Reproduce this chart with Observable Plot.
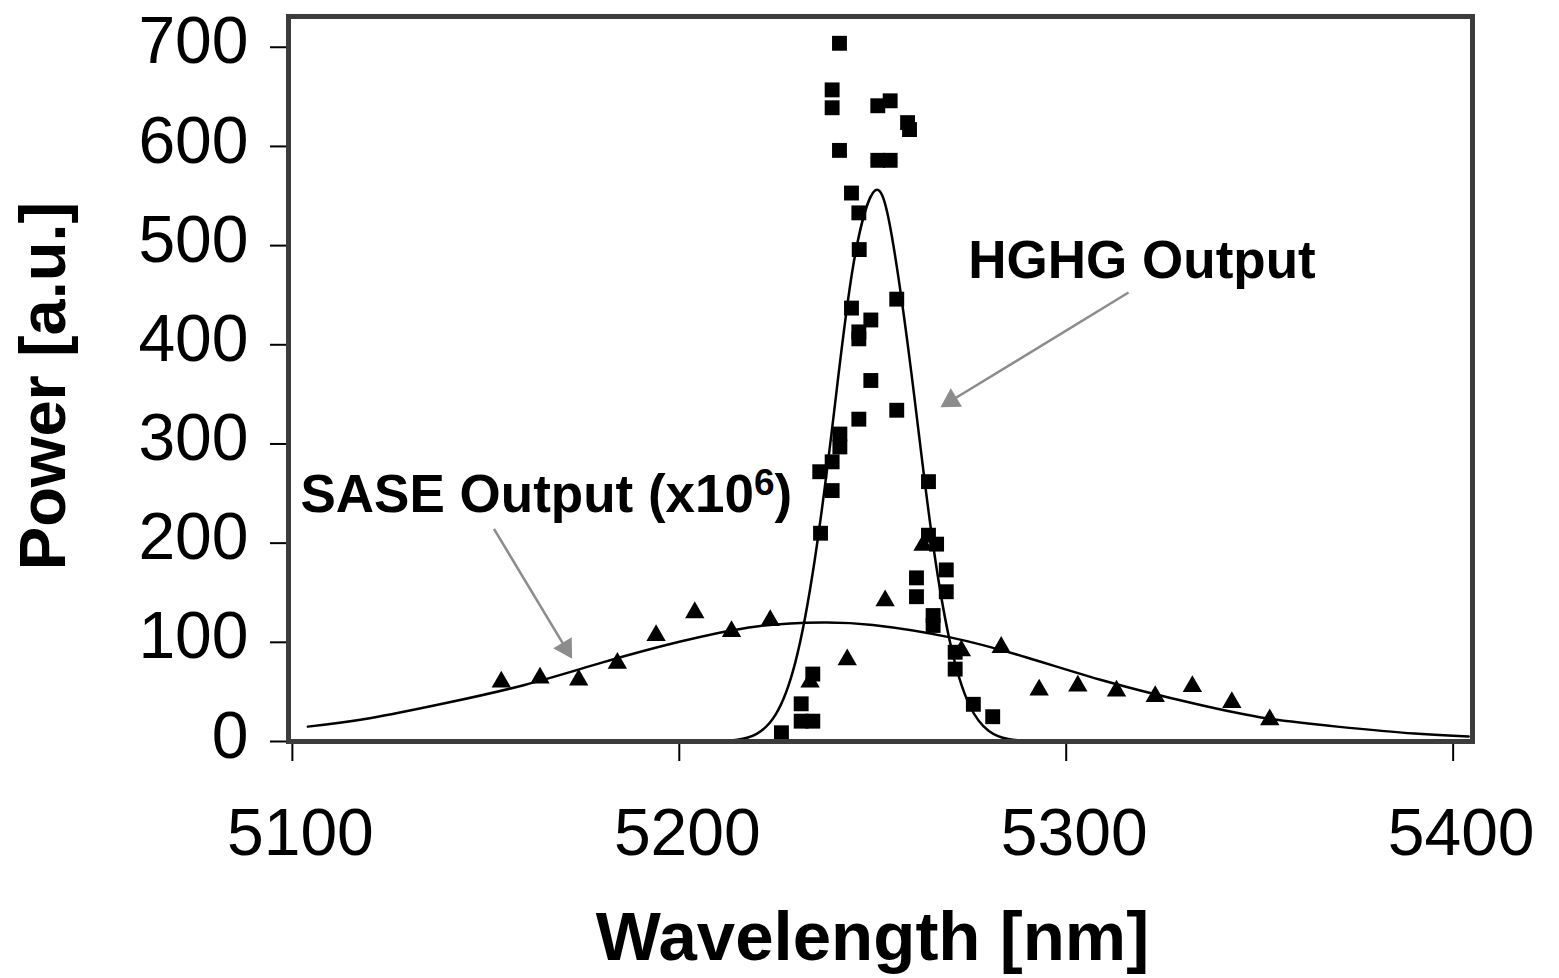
<!DOCTYPE html>
<html><head><meta charset="utf-8">
<script src="https://cdn.jsdelivr.net/npm/d3@7"></script>
<script src="https://cdn.jsdelivr.net/npm/@observablehq/plot@0.6"></script>
<style>body{margin:0;background:#fff;} svg{display:block}</style>
</head><body><div id="chart"></div>
<script>
// HGHG measured points (squares)
const hghgX = [5241.4,5239.5,5239.5,5251.3,5254.5,5259.0,5259.5,5241.4,5251.3,5254.5,5244.5,5246.4,5246.5,5244.5,5256.2,5249.5,5246.4,5246.4,5249.5,5256.2,5246.4,5241.5,5241.5,5239.5,5236.3,5239.5,5264.4,5236.5,5264.4,5266.5,5261.3,5261.3,5269.0,5269.0,5265.6,5265.6,5271.3,5271.3,5276.0,5281.0,5234.5,5231.5,5231.5,5234.5,5226.4];
const hghgY = [704,657,639,641,646,624,617,596,586,586,553,533,496,437,446,425,413,406,364,334,325,310,297,282,272,253,262,210,208,199,165,146,173,151,127,117,90,73,37.5,25,68,38,20.5,20.5,8.8];
// SASE measured points (triangles)
const saseX = [5154,5164,5174,5184,5194,5204,5213.5,5223.5,5233.8,5243.4,5253.2,5263,5272.9,5283.2,5293,5303,5313,5323,5332.6,5342.8,5352.6];
const saseY = [60,64,62,79,107,130,111,122,60,82.5,142,198,91.5,95,52,56,51,45.5,55.5,39.5,22];
// Fitted curves
const hghgFitX = [5205,5210,5215,5220,5225,5230,5235,5240,5245,5250.6,5255,5260,5265,5270,5275,5280,5285,5290,5295];
const hghgFitY = [0,0.3,1.7,7.7,27.8,80,183,332,481,555.5,508,371,215,99.5,36.6,10.7,2.5,0.5,0];
const saseFitX = [5104,5120,5140,5160,5180,5200,5220,5237,5250,5270,5290,5310,5330,5350,5370,5390,5404];
const saseFitY = [15,23.5,39,57,79.5,100.5,116,120,117.5,105,84.5,61,41,24.5,15,8,5];
// Axis ticks
const xTicks = [5100,5200,5300,5400];
const yTicks = [0,100,200,300,400,500,600,700];
// Annotations
const annoText = ["HGHG Output","SASE Output (x10\u2076)"];
const annoX = [5274.7,5102.1];
const annoY = [467.8,231.2];
const arrowX1 = [5316.1,5152.1], arrowY1 = [452.7,214.4];
const arrowX2 = [5267.5,5172.3], arrowY2 = [337,83.4];

const W=1559, H=978, mL=288, mR=87, mT=16, mB=237;
const xDomain=[5099,5405], yDomain=[0,731];
const kx=(W-mL-mR)/(xDomain[1]-xDomain[0]);
const ky=(H-mT-mB)/(yDomain[1]-yDomain[0]);

const pts = (xs, ys) => xs.map((x,i)=>({x, y: ys[i]}));
const hghg = pts(hghgX,hghgY), sase = pts(saseX,saseY);
const hghgFit = pts(hghgFitX,hghgFitY), saseFit = pts(saseFitX,saseFitY);
const annos = annoText.map((t,i)=>({t, x: annoX[i], y: annoY[i]}));

const headR = 8;
const yOff = Math.sqrt(Math.PI*headR*headR/(3*Math.sqrt(3)));
const arrows = arrowX1.map((x1,i)=>{
  const x2=arrowX2[i], y1=arrowY1[i], y2=arrowY2[i];
  const dxp=(x2-x1)*kx, dyp=-(y2-y1)*ky;
  const len=Math.hypot(dxp,dyp), ux=dxp/len, uy=dyp/len;
  const d=2*yOff;
  return {x1,y1,x2,y2, cx: x2-ux*d/kx, cy: y2+uy*d/ky, rot: Math.atan2(dyp,dxp)*180/Math.PI+90};
});

const chart = Plot.plot({
  width: W, height: H,
  marginLeft: mL, marginRight: mR, marginTop: mT, marginBottom: mB,
  style: {fontFamily: "'Liberation Sans', Arial, sans-serif", background: "#fff", color: "#000"},
  x: {domain: xDomain},
  y: {domain: yDomain},
  marks: [
    Plot.axisY({ticks: yTicks, tickSize: 18, fill: "none", strokeWidth: 2, label: null}),
    Plot.axisY({ticks: yTicks, tickSize: 0, tickPadding: 40, dy: -5, fontSize: 66, label: null}),
    Plot.axisX({ticks: xTicks, tickSize: 20, fill: "none", strokeWidth: 2, label: null}),
    Plot.axisX({ticks: xTicks, tickSize: 0, tickPadding: 67, dx: 8, fontSize: 66, tickFormat: d => String(d), label: null}),
    Plot.line(saseFit, {x: "x", y: "y", curve: "natural", stroke: "#000", strokeWidth: 2.5}),
    Plot.line(hghgFit, {x: "x", y: "y", curve: "natural", stroke: "#000", strokeWidth: 2.5}),
    Plot.dot(sase, {x: "x", y: "y", symbol: "triangle", r: 7.2, fill: "#000", stroke: "none"}),
    Plot.dot(hghg, {x: "x", y: "y", symbol: "square", r: 8.4, fill: "#000", stroke: "none"}),
    Plot.link(arrows, {x1: "x1", y1: "y1", x2: "cx", y2: "cy", stroke: "#8c8c8c", strokeWidth: 2.5}),
    Plot.dot(arrows, {x: "cx", y: "cy", symbol: "triangle", r: headR, rotate: "rot", fill: "#8c8c8c", stroke: "none"}),
    Plot.text(annos, {x: "x", y: "y", text: "t", textAnchor: "start", lineAnchor: "bottom", fontSize: 53, fontWeight: "bold", fill: "#000"}),
    Plot.text(["Power [a.u.]"], {frameAnchor: "left", textAnchor: "middle", rotate: -90, dx: -244, dy: 7, fontSize: 65, fontWeight: "bold", fill: "#000"}),
    Plot.text(["Wavelength [nm]"], {frameAnchor: "bottom", lineAnchor: "bottom", dx: -8, dy: 218, fontSize: 69, fontWeight: "bold", fill: "#000"}),
    Plot.frame({stroke: "#3c3c3c", strokeWidth: 5})
  ]
});
// render the superscript 6 as a raised tspan
chart.querySelectorAll("text").forEach(t => {
  const s = t.textContent;
  if (s.includes("\u2076") && t.children.length === 0) {
    const [pre, post] = s.split("\u2076");
    const ns = "http://www.w3.org/2000/svg";
    t.textContent = pre;
    const sup = document.createElementNS(ns, "tspan");
    sup.setAttribute("dy", "-17"); sup.setAttribute("font-size", "37"); sup.textContent = "6";
    const rest = document.createElementNS(ns, "tspan");
    rest.setAttribute("dy", "17"); rest.textContent = post;
    t.appendChild(sup); t.appendChild(rest);
  }
});
document.getElementById("chart").appendChild(chart);
</script>
</body></html>
